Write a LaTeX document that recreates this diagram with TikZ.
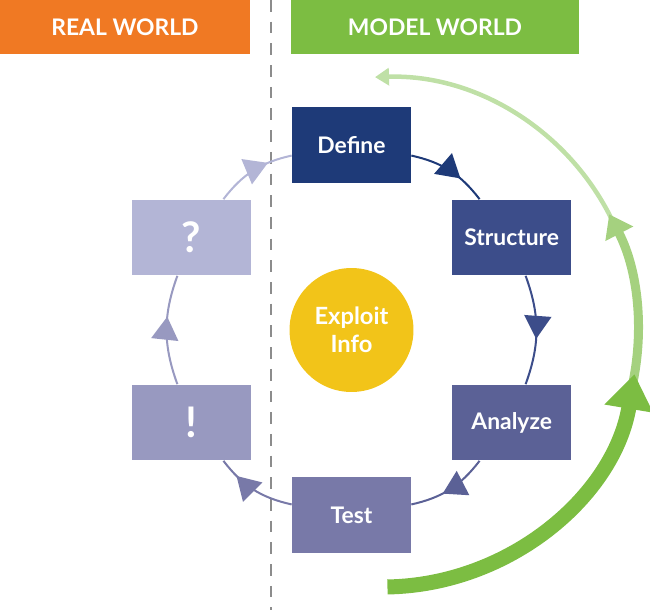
\documentclass[tikz,border=0pt]{standalone}
\usepackage{fontspec}
\setmainfont{Lato}
\usetikzlibrary{arrows.meta,decorations.markings}
\definecolor{corange}{HTML}{F07923}
\definecolor{cgreen}{HTML}{7CBD42}
\definecolor{cgreenmid}{HTML}{A5D17F}
\definecolor{cgreenlight}{HTML}{BFE0A6}
\definecolor{cyellow}{HTML}{F2C419}
\definecolor{cdefine}{HTML}{1E3A78}
\definecolor{cstructure}{HTML}{3C4D8A}
\definecolor{canalyze}{HTML}{5B6196}
\definecolor{ctest}{HTML}{7879A8}
\definecolor{cexcl}{HTML}{9899C0}
\definecolor{cquest}{HTML}{B3B5D6}
\definecolor{cborder}{HTML}{8C8C8C}
\begin{document}
\begin{tikzpicture}[x=0.02cm, y=0.02cm,
  header/.style={rectangle, minimum height=1.08cm, inner sep=0pt, text=white,
    font=\bfseries\fontsize{13}{15}\selectfont},
  phase/.style={rectangle, minimum width=2.38cm, minimum height=1.52cm, inner sep=0pt,
    text=white, font=\bfseries\fontsize{13}{15}\selectfont},
  ring/.style={line width=0.04cm, bend left=20, postaction={decorate},
    decoration={markings, mark=at position #1 with {\arrow{Triangle[width=0.54cm,length=0.46cm]}}}},
  ring/.default=0.6]
\useasboundingbox (0,0) rectangle (650,610);
% intestazioni
\node[header, fill=corange, minimum width=5cm] (real) at (125,583) {REAL WORLD};
\node[header, fill=cgreen, minimum width=5.76cm] (model) at (435,583) {MODEL WORLD};
% confine
\draw[cborder, line width=0.054cm, dash pattern=on 0.234cm off 0.2cm] (271,610) -- (271,0);
% centro
\node[circle, fill=cyellow, minimum size=2.48cm, inner sep=0pt, text=white, align=center,
  font=\bfseries\fontsize{13.5}{16}\selectfont] (exploit) at (351.5,280) {Exploit\\Info};
% fasi
\node[phase, fill=cdefine] (define) at (351.5,465) {Define};
\node[phase, fill=cstructure] (structure) at (511.7,372.5) {Structure};
\node[phase, fill=canalyze] (analyze) at (511.7,187.5) {Analyze};
\node[phase, fill=ctest] (test) at (351.5,95) {Test};
\node[phase, fill=cexcl, font=\bfseries\fontsize{24}{26}\selectfont] (excl) at (191.3,187.5) {!};
\node[phase, fill=cquest, font=\bfseries\fontsize{24}{26}\selectfont] (quest) at (191.3,372.5) {?};
% ciclo
\draw[ring=0.66, cdefine] (define) to (structure);
\draw[ring=0.58, cstructure] (structure) to (analyze);
\draw[ring=0.6, canalyze] (analyze) to (test);
\draw[ring=0.76, ctest] (test) to (excl);
\draw[ring=0.62, cexcl] (excl) to (quest);
\draw[ring=0.7, cquest] (quest) to (define);
% freccia verde
\coordinate (c) at (383,278);
\draw[cgreenlight, line width=0.09cm, -{Triangle[width=0.34cm,length=0.28cm]}]
  ([shift={(22:255)}]c) arc[start angle=22, end angle=91.8, radius=255];
\draw[cgreenmid, line width=0.18cm, -{Triangle[width=0.6cm,length=0.44cm]}]
  ([shift={(-16:255)}]c) arc[start angle=-16, end angle=27.5, radius=255];
\draw[cgreen, line width=0.3cm, -{Triangle[width=0.94cm,length=0.7cm]}]
  ([shift={(-89:255)}]c) arc[start angle=-89, end angle=-9.5, radius=255];
\end{tikzpicture}
\end{document}
